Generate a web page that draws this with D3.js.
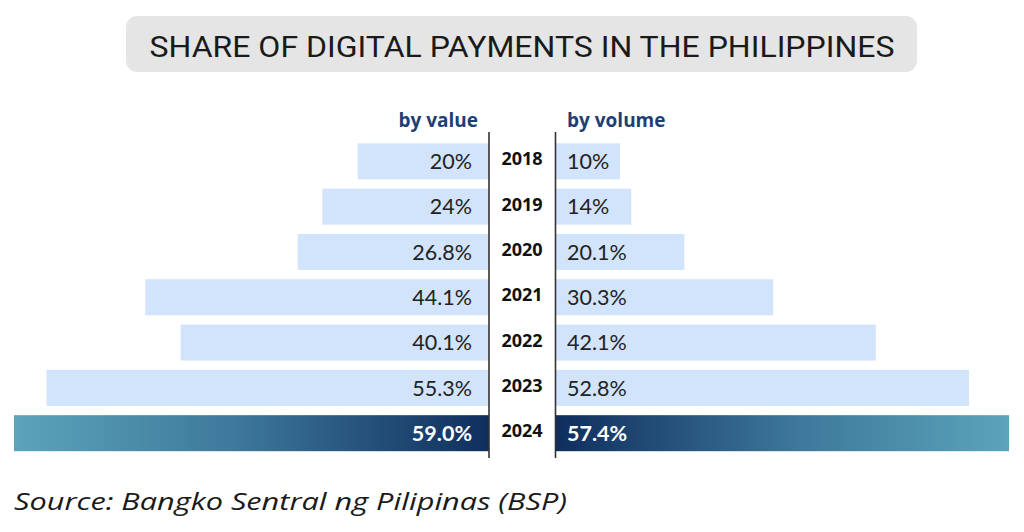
<!DOCTYPE html>
<html>
<head>
<meta charset="utf-8">
<script src="https://cdn.jsdelivr.net/npm/d3@7"></script>
<style>
  html, body { margin: 0; padding: 0; background: #ffffff; }
  svg { display: block; }
</style>
</head>
<body>
<svg id="chart" width="1024" height="532"></svg>
<script>
// ---- Data ----
const years = ["2018", "2019", "2020", "2021", "2022", "2023", "2024"];
const byValue = [20, 24, 26.8, 44.1, 40.1, 55.3, 59.0];
const byVolume = [10, 14, 20.1, 30.3, 42.1, 52.8, 57.4];
const valueLabels = ["20%", "24%", "26.8%", "44.1%", "40.1%", "55.3%", "59.0%"];
const volumeLabels = ["10%", "14%", "20.1%", "30.3%", "42.1%", "52.8%", "57.4%"];
const highlightYear = "2024";
const title = "SHARE OF DIGITAL PAYMENTS IN THE PHILIPPINES";
const leftHeader = "by value";
const rightHeader = "by volume";
const source = "Source: Bangko Sentral ng Pilipinas (BSP)";

// ---- Layout ----
const svg = d3.select("#chart");
const leftAxisX = 489;
const rightAxisX = 556;
const centerX = (leftAxisX + rightAxisX) / 2;
const minBar = 64;

const y = d3.scaleBand().domain(years).range([143.3, 451.2]).paddingInner(0.205).paddingOuter(0);

// bar lengths (baseline offset used in the original graphic)
const leftScale = d3.scaleLinear().domain([5.1, 59]).range([0, 475]);
const rightScale = d3.scaleLinear().domain([5.35, 57.4]).range([0, 453]);

const defs = svg.append("defs");
const gL = defs.append("linearGradient").attr("id", "gradL").attr("x1", "0%").attr("x2", "100%");
gL.append("stop").attr("offset", "0%").attr("stop-color", "#5ba4ba");
gL.append("stop").attr("offset", "45%").attr("stop-color", "#3f7a9c");
gL.append("stop").attr("offset", "100%").attr("stop-color", "#0f2e5d");
const gR = defs.append("linearGradient").attr("id", "gradR").attr("x1", "0%").attr("x2", "100%");
gR.append("stop").attr("offset", "0%").attr("stop-color", "#0f2e5d");
gR.append("stop").attr("offset", "55%").attr("stop-color", "#3f7a9c");
gR.append("stop").attr("offset", "100%").attr("stop-color", "#5ba4ba");

// ---- Title box ----
svg.append("rect")
  .attr("x", 126).attr("y", 16).attr("width", 791).attr("height", 56)
  .attr("rx", 11).attr("fill", "#e5e5e5");
svg.append("text")
  .attr("x", 522).attr("y", 56.5)
  .attr("text-anchor", "middle")
  .attr("font-family", "Roboto, 'Noto Sans', sans-serif")
  .attr("font-weight", 400)
  .attr("font-size", 29)
  .attr("fill", "#1a1a1a")
  .attr("textLength", 745)
  .attr("lengthAdjust", "spacingAndGlyphs")
  .text(title);

// ---- Headers ----
const headerFont = "'Open Sans', 'Noto Sans', sans-serif";
svg.append("text")
  .attr("x", 478).attr("y", 127)
  .attr("text-anchor", "end")
  .attr("font-family", headerFont)
  .attr("font-weight", 700)
  .attr("font-size", 19)
  .attr("fill", "#1e3f74")
  .text(leftHeader);
svg.append("text")
  .attr("x", 567).attr("y", 127)
  .attr("text-anchor", "start")
  .attr("font-family", headerFont)
  .attr("font-weight", 700)
  .attr("font-size", 19)
  .attr("fill", "#1e3f74")
  .text(rightHeader);

const rows = years.map((yr, i) => ({
  year: yr, v: byValue[i], vol: byVolume[i], vl: valueLabels[i], vol_l: volumeLabels[i],
  hl: yr === highlightYear
}));

// ---- Bars ----
svg.append("g").selectAll("rect").data(rows).join("rect")
  .attr("x", d => leftAxisX - Math.max(minBar, leftScale(d.v)))
  .attr("y", d => y(d.year))
  .attr("width", d => Math.max(minBar, leftScale(d.v)))
  .attr("height", y.bandwidth())
  .attr("fill", d => d.hl ? "url(#gradL)" : "#d2e4fb");

svg.append("g").selectAll("rect").data(rows).join("rect")
  .attr("x", rightAxisX)
  .attr("y", d => y(d.year))
  .attr("width", d => Math.max(minBar, rightScale(d.vol)))
  .attr("height", y.bandwidth())
  .attr("fill", d => d.hl ? "url(#gradR)" : "#d2e4fb");

// ---- Axis lines ----
const axisTop = 132, axisBottom = 458;
[leftAxisX, rightAxisX - 0.5].forEach(x => {
  svg.append("line")
    .attr("x1", x).attr("x2", x).attr("y1", axisTop).attr("y2", axisBottom)
    .attr("stroke", "#333333").attr("stroke-width", 1.6);
});

// ---- Labels ----
const labelFont = "Lato, 'Open Sans', sans-serif";
svg.append("g").selectAll("text").data(rows).join("text")
  .attr("x", 472)
  .attr("y", d => y(d.year) + y.bandwidth() / 2 + 7.8)
  .attr("text-anchor", "end")
  .attr("font-family", labelFont)
  .attr("font-size", 21.5)
  .attr("font-weight", d => d.hl ? 700 : 400)
  .attr("fill", d => d.hl ? "#ffffff" : "#222222")
  .text(d => d.vl);

svg.append("g").selectAll("text").data(rows).join("text")
  .attr("x", 567)
  .attr("y", d => y(d.year) + y.bandwidth() / 2 + 7.8)
  .attr("text-anchor", "start")
  .attr("font-family", labelFont)
  .attr("font-size", 21.5)
  .attr("font-weight", d => d.hl ? 700 : 400)
  .attr("fill", d => d.hl ? "#ffffff" : "#222222")
  .text(d => d.vol_l);

svg.append("g").selectAll("text").data(rows).join("text")
  .attr("x", centerX - 0.5)
  .attr("y", d => y(d.year) + y.bandwidth() / 2 + 4)
  .attr("text-anchor", "middle")
  .attr("font-family", "'Open Sans', sans-serif")
  .attr("font-size", 18)
  .attr("font-weight", 700)
  .attr("fill", "#111111")
  .text(d => d.year);

// ---- Source ----
svg.append("text")
  .attr("x", 14).attr("y", 510)
  .attr("font-family", "'Open Sans', sans-serif")
  .attr("font-style", "italic")
  .attr("font-size", 24)
  .attr("fill", "#1a1a1a")
  .attr("textLength", 553)
  .attr("lengthAdjust", "spacingAndGlyphs")
  .text(source);
</script>
</body>
</html>
